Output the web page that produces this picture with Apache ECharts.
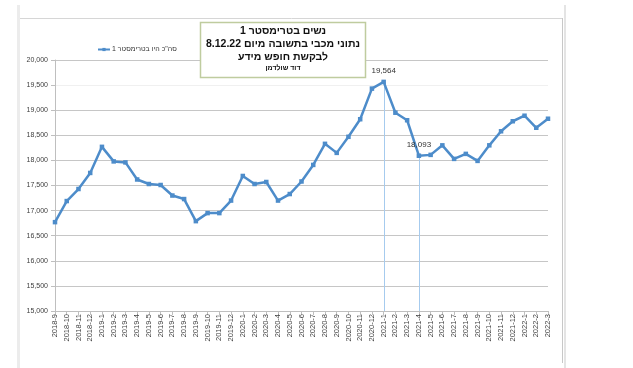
<!DOCTYPE html>
<html>
<head>
<meta charset="utf-8">
<script src="https://cdn.jsdelivr.net/npm/echarts@6.0.0/dist/echarts.min.js"></script>
<style>
html,body{margin:0;padding:0;background:#fff;}
#c{width:633px;height:368px;direction:rtl;}
</style>
</head>
<body>
<div id="c"></div>
<script>
// ---- data ----
var categories = ['2018-9','2018-10','2018-11','2018-12',
  '2019-1','2019-2','2019-3','2019-4','2019-5','2019-6','2019-7','2019-8','2019-9','2019-10','2019-11','2019-12',
  '2020-1','2020-2','2020-3','2020-4','2020-5','2020-6','2020-7','2020-8','2020-9','2020-10','2020-11','2020-12',
  '2021-1','2021-2','2021-3','2021-4','2021-5','2021-6','2021-7','2021-8','2021-9','2021-10','2021-11','2021-12',
  '2022-1','2022-2','2022-3'];
var values = [16770,17190,17430,17750,
  18270,17980,17960,17620,17530,17510,17300,17230,16790,16950,16950,17200,
  17690,17530,17570,17200,17330,17580,17910,18330,18150,18470,18820,19430,
  19564,18950,18800,18093,18110,18300,18030,18130,17990,18300,18580,18780,
  18890,18650,18830];
var labeledCategories = ['2021-1','2021-4'];
var seriesName = 'סה"כ היו בטרימסטר 1';
var titleLines = ['נשים בטרימסטר 1', 'נתוני מכבי בתשובה מיום 8.12.22', 'לבקשת חופש מידע', 'דוד שולדמן'];
var yMin = 15000, yMax = 20000, yStep = 500;

// ---- chart ----
var fmt = function (v) { return Number(v).toLocaleString('en-US'); };
var labeledIdx = labeledCategories.map(function (c) { return categories.indexOf(c); });
var seriesData = values.map(function (v, i) {
  var item = { value: v };
  if (labeledIdx.indexOf(i) >= 0) {
    item.label = { show: true };
  }
  return item;
});
var gridColors = [];
for (var k = 0; k <= (yMax - yMin) / yStep; k++) gridColors.push('#c6c6c6');
gridColors[9] = '#f0f0f0';

var blue = '#4d8cca';
var chart = echarts.init(document.getElementById('c'), null, { renderer: 'canvas' });
chart.setOption({
  animation: false,
  backgroundColor: '#ffffff',
  textStyle: { fontFamily: 'Liberation Sans, DejaVu Sans, Arial, sans-serif' },
  grid: { left: 55, right: 85, top: 60, bottom: 57, containLabel: false },
  legend: {
    left: 92, top: 41,
    itemWidth: 12, itemHeight: 4, itemGap: 4,
    textStyle: { fontSize: 7, color: '#333', padding: [0, 0, 0, -3] },
    data: [seriesName]
  },
  xAxis: {
    type: 'category',
    data: categories,
    boundaryGap: false,
    axisLine: { show: true, lineStyle: { color: '#bfbfbf', width: 1 } },
    axisTick: { show: true, length: 4, lineStyle: { color: '#bfbfbf' } },
    axisLabel: { rotate: 90, fontSize: 7.5, color: '#404040', margin: 3, interval: 0 },
    splitLine: { show: false }
  },
  yAxis: {
    type: 'value',
    min: yMin, max: yMax, interval: yStep,
    axisLine: { show: true, lineStyle: { color: '#bfbfbf', width: 1 } },
    axisTick: { show: true, length: 4, lineStyle: { color: '#bfbfbf' } },
    axisLabel: { fontSize: 7, color: '#404040', margin: 7, formatter: fmt },
    splitLine: { show: true, lineStyle: { color: gridColors, width: 1 } }
  },
  series: [{
    type: 'custom',
    silent: true,
    z: 1,
    data: labeledIdx.map(function (i) { return [i, values[i]]; }),
    renderItem: function (params, api) {
      var top = api.coord([api.value(0), api.value(1)]);
      var bottom = api.coord([api.value(0), yMin]);
      var x = Math.round(top[0]) + 0.5;
      return {
        type: 'line',
        shape: { x1: x, y1: top[1], x2: x, y2: bottom[1] },
        style: { stroke: '#a6cbee', lineWidth: 1 }
      };
    }
  }, {
    name: seriesName,
    type: 'line',
    data: seriesData,
    symbol: 'rect',
    symbolSize: 4.5,
    z: 3,
    itemStyle: { color: blue },
    lineStyle: { color: blue, width: 2.5 },
    label: { show: false, position: 'top', distance: 5, fontSize: 8, color: '#333', formatter: function (p) { return fmt(p.value); } }
  }],
  graphic: [
    { type: 'rect', shape: { x: 17, y: 5, width: 3, height: 363 }, style: { fill: '#ececec' }, silent: true },
    { type: 'rect', shape: { x: 564, y: 5, width: 2, height: 363 }, style: { fill: '#e4e4e4' }, silent: true },
    { type: 'line', shape: { x1: 20, y1: 18.5, x2: 563, y2: 18.5 }, style: { stroke: '#d6d6d6', lineWidth: 1 }, silent: true },
    { type: 'line', shape: { x1: 562.5, y1: 18, x2: 562.5, y2: 363 }, style: { stroke: '#c8c8c8', lineWidth: 1 }, silent: true },
    { type: 'rect', shape: { x: 200.5, y: 22.5, width: 165, height: 55 }, style: { fill: '#ffffff', stroke: '#bfcc9f', lineWidth: 1.5 }, z: 10 },
    { type: 'text', x: 283, y: 31, z: 11, style: { text: titleLines[0], fill: '#111', font: 'bold 10.5px Liberation Sans, DejaVu Sans, sans-serif', textAlign: 'center', textVerticalAlign: 'middle' } },
    { type: 'text', x: 283, y: 44, z: 11, style: { text: titleLines[1], fill: '#111', font: 'bold 10.5px Liberation Sans, DejaVu Sans, sans-serif', textAlign: 'center', textVerticalAlign: 'middle' } },
    { type: 'text', x: 283, y: 57, z: 11, style: { text: titleLines[2], fill: '#111', font: 'bold 10.5px Liberation Sans, DejaVu Sans, sans-serif', textAlign: 'center', textVerticalAlign: 'middle' } },
    { type: 'text', x: 283, y: 68.5, z: 11, style: { text: titleLines[3], fill: '#111', font: 'bold 7px Liberation Sans, DejaVu Sans, sans-serif', textAlign: 'center', textVerticalAlign: 'middle' } }
  ]
});
</script>
</body>
</html>
